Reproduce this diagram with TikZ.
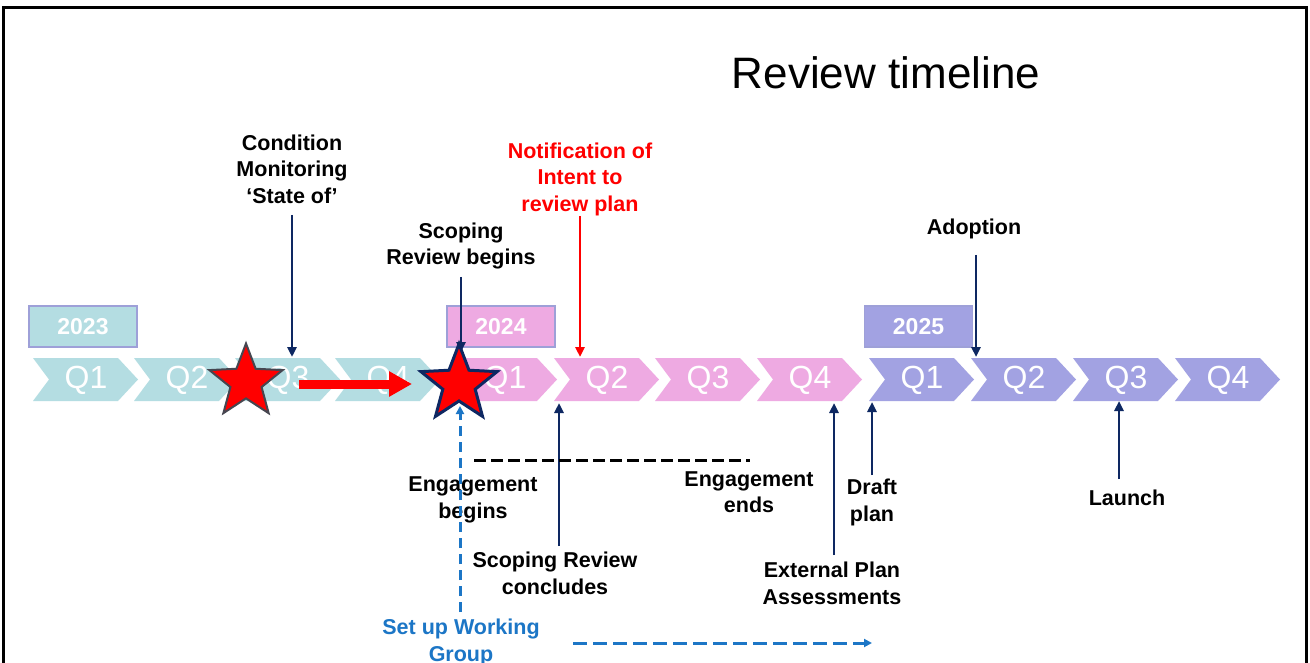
\documentclass[tikz,border=0pt]{standalone}
\usepackage{fontspec}
\setmainfont{Liberation Sans}
\usetikzlibrary{arrows.meta,shapes.geometric}
\definecolor{teal23}{RGB}{180,221,226}
\definecolor{pink24}{RGB}{238,170,226}
\definecolor{purp25}{RGB}{162,162,226}
\definecolor{navy}{RGB}{14,40,98}
\definecolor{wgblue}{RGB}{28,118,198}
\definecolor{boxedge}{RGB}{158,160,216}
\definecolor{starEdge}{RGB}{70,70,80}
\tikzset{
  qlabel/.style={text=white, font=\fontsize{32}{32}\selectfont, inner sep=0pt},
  yearbox/.style={draw=boxedge, line width=1.2pt, minimum width=108pt, minimum height=41pt, inner sep=0pt, text=white, font=\fontsize{23}{23}\selectfont\bfseries},
  lbl/.style={align=center, font=\fontsize{21.5}{26.5}\selectfont\bfseries, inner sep=0pt},
  navyarrow/.style={draw=navy, line width=2.5pt, -{Triangle[length=10pt,width=9pt]}},
  redarrow/.style={draw=red, line width=2.5pt, -{Triangle[length=10pt,width=9pt]}},
  bigred/.style={draw=red, line width=9pt, -{Triangle[length=23pt,width=24pt]}},
  bluedash/.style={draw=wgblue, line width=3pt, dash pattern=on 13pt off 6pt, -{Triangle[length=8pt,width=8pt]}},
  blackdash/.style={draw=black, line width=3pt, dash pattern=on 12pt off 5pt},
  starshape/.style={star, star points=5, star point ratio=2.35, inner sep=0pt, fill=red},
  frameline/.style={draw=black, line width=3pt}
}
\newcommand\chevron[4]{%
  \fill[#2] (#1,358) -- ++(85,0) -- ++(20,21.5) -- ++(-20,21.5) -- ++(-85,0) -- ++(16,-21.5) -- cycle;
  \node[qlabel] (#4) at (#1+53,380) {#3};}
\begin{document}
\begin{tikzpicture}[x=1pt,y=-1pt]
\useasboundingbox (0,0) rectangle (1310,663);
\fill[white] (0,0) rectangle (1310,663);
% frame
\draw[frameline] (3.5,663) -- (3.5,7.5) -- (1306,7.5) -- (1306,663);
% title
\node[font=\fontsize{44}{44}\selectfont, inner sep=0pt] (title) at (886,73) {Review timeline};
% chevrons
\chevron{33}{teal23}{Q1}{a1}
\chevron{134}{teal23}{Q2}{a2}
\chevron{235}{teal23}{Q3}{a3}
\chevron{335}{teal23}{Q4}{a4}
\chevron{452}{pink24}{Q1}{b1}
\chevron{554}{pink24}{Q2}{b2}
\chevron{655}{pink24}{Q3}{b3}
\chevron{757}{pink24}{Q4}{b4}
\chevron{869}{purp25}{Q1}{c1}
\chevron{971}{purp25}{Q2}{c2}
\chevron{1073}{purp25}{Q3}{c3}
\chevron{1175}{purp25}{Q4}{c4}
% year boxes
\node[yearbox, fill=teal23] (y23) at (83,326.5) {2023};
\node[yearbox, fill=pink24] (y24) at (501,326.5) {2024};
\node[yearbox, fill=purp25] (y25) at (918.5,326.5) {2025};
% labels
\node[lbl] (cond) at (292,169) {Condition\\Monitoring\\‘State of’};
\node[lbl, text=red] (notif) at (580,179) {Notification of\\Intent to\\review plan};
\node[lbl] (scopeB) at (461,246) {Scoping\\Review begins};
\node[lbl] (adopt) at (974,229) {Adoption};
\node[lbl] (engB) at (473,500) {Engagement\\begins};
\node[lbl] (engE) at (749,492) {Engagement\\ends};
\node[lbl] (scopeC) at (555,573.5) {Scoping Review\\concludes};
\node[lbl] (draft) at (872,502.5) {Draft\\plan};
\node[lbl] (ext) at (832,583.5) {External Plan\\Assessments};
\node[lbl] (launch) at (1127,498) {Launch};
\node[lbl, text=wgblue] (wg) at (461,642.5) {Set up Working\\Group};
% connector end points
\coordinate (condS) at (292,215);   \coordinate (condT) at (292,357);
\coordinate (notifS) at (580,216);  \coordinate (notifT) at (580,357);
\coordinate (scopeBS) at (461,277); \coordinate (scopeBT) at (461,352);
\coordinate (adoptS) at (976,255);  \coordinate (adoptT) at (976,357);
\coordinate (scopeCS) at (559,546); \coordinate (scopeCT) at (559,403);
\coordinate (extS) at (834,555);    \coordinate (extT) at (834,403);
\coordinate (draftS) at (872,475);  \coordinate (draftT) at (872,402);
\coordinate (launchS) at (1119,479);\coordinate (launchT) at (1119,401);
\coordinate (wgS) at (460,612);     \coordinate (wgT) at (460,406);
\coordinate (wgH1) at (573,643);    \coordinate (wgH2) at (872,643);
\coordinate (engL) at (474,460);    \coordinate (engR) at (750,460);
\coordinate (redS) at (299,384);    \coordinate (redT) at (412,384);
% connectors
\draw[navyarrow] (condS) -- (condT);
\draw[redarrow] (notifS) -- (notifT);
\draw[navyarrow] (scopeBS) -- (scopeBT);
\draw[navyarrow] (adoptS) -- (adoptT);
\draw[navyarrow] (scopeCS) -- (scopeCT);
\draw[navyarrow] (extS) -- (extT);
\draw[navyarrow] (draftS) -- (draftT);
\draw[navyarrow] (launchS) -- (launchT);
\draw[blackdash] (engL) -- (engR);
\draw[bigred] (redS) -- (redT);
% stars
\node[starshape, minimum size=77pt, draw=starEdge, line width=2pt] (star1) at (246,382) {};
\node[starshape, minimum size=80pt, draw=navy, line width=3pt] (star2) at (459,384) {};
% blue dashed
\draw[bluedash, dash pattern=on 10pt off 6pt] (wgS) -- (wgT);
\draw[bluedash, dash pattern=on 14pt off 6pt] (wgH1) -- (wgH2);
\end{tikzpicture}
\end{document}
